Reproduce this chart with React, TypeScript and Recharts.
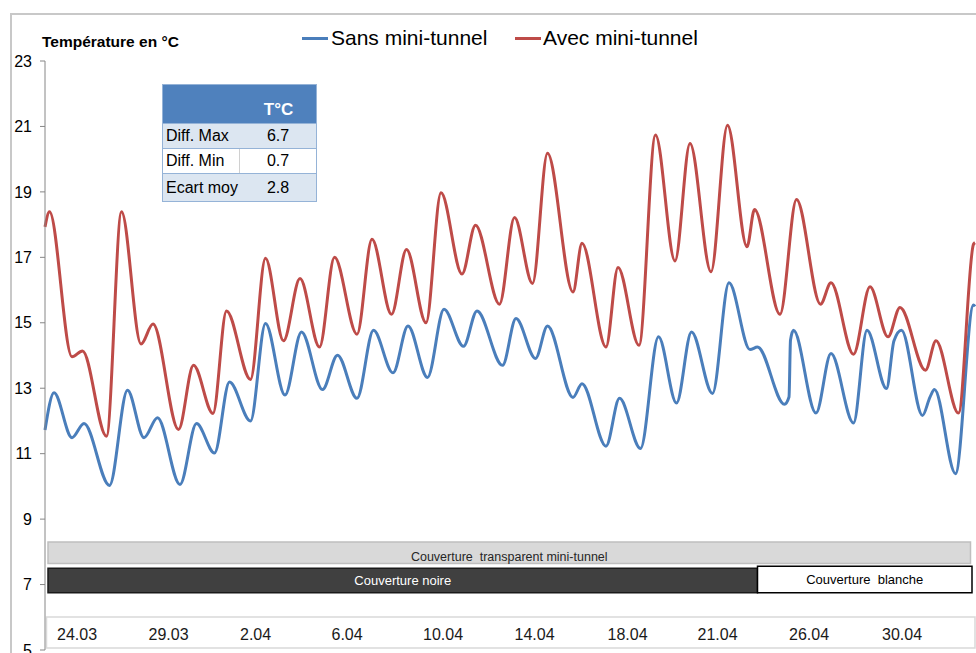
import React from "react"
import { LineChart, Line, XAxis, YAxis, ReferenceArea } from "recharts"

// temps en heures depuis le début de la mesure
const heuresAvec = [
  0, 3, 18, 25, 41, 51, 64, 72, 89, 99, 112, 121, 137, 147, 159, 170, 183, 193, 208, 218,
  231, 241, 254, 264, 278, 287, 303, 313, 325, 335, 352, 358, 374, 382, 396, 407, 420, 430,
  444, 455, 468, 473, 490, 501, 517, 524, 539, 550, 562, 570, 587, 594, 609, 619, 620,
]
const tempAvec = [
  17.93, 18.39, 13.96, 14.14, 11.53, 18.39, 14.35, 14.96, 11.74, 13.7, 12.23, 15.36, 13.27,
  16.97, 14.45, 16.35, 14.26, 17.0, 14.65, 17.55, 15.26, 17.24, 15.0, 18.97, 16.49, 17.98,
  15.57, 18.22, 16.2, 20.18, 15.94, 17.43, 14.26, 16.69, 14.31, 20.74, 16.89, 20.48, 16.56,
  21.04, 17.32, 18.46, 15.26, 18.77, 15.57, 16.22, 14.04, 16.1, 14.57, 15.47, 13.55, 14.45,
  12.24, 17.4, 17.45,
]

const heuresSans = [
  0, 6, 18, 26, 43, 55, 66, 75, 90, 101, 113, 123, 137, 147, 160, 171, 185, 195, 208, 219,
  232, 242, 255, 266, 279, 288, 305, 314, 327, 335, 352, 358, 374, 383, 397, 409, 421, 431,
  445, 456, 470, 475, 493, 496, 497, 499, 514, 524, 539, 548, 561, 566, 571, 585, 590, 593,
  607, 619, 620,
]
const tempSans = [
  11.72, 12.86, 11.49, 11.92, 10.03, 12.94, 11.49, 12.1, 10.06, 11.92, 11.02, 13.19, 12.0,
  14.98, 12.79, 14.72, 12.96, 14.01, 12.69, 14.77, 13.47, 14.9, 13.33, 15.41, 14.28, 15.36,
  13.7, 15.13, 13.91, 14.9, 12.72, 13.14, 11.23, 12.69, 11.16, 14.57, 12.55, 14.72, 12.84,
  16.22, 14.18, 14.26, 12.51, 12.73, 14.47, 14.77, 12.24, 14.06, 11.94, 14.77, 12.99, 14.45,
  14.77, 12.17, 12.73, 12.96, 10.39, 15.54, 15.5,
]

const yTicks = [5, 7, 9, 11, 13, 15, 17, 19, 21, 23]
const dateLabels = ["24.03", "29.03", "2.04", "6.04", "10.04", "14.04", "18.04", "21.04", "26.04", "30.04"]
const dateHeures = [8, 69, 130, 191, 252, 313, 375, 435, 496, 558]

// périodes de couverture (heures)
const periodeTransparent = [2, 617]
const periodeNoire = [2, 475]
const periodeBlanche = [475, 618]

const tableRows = [
  ["Diff. Max", "6.7"],
  ["Diff. Min", "0.7"],
  ["Ecart moy", "2.8"],
]

const avecData = heuresAvec.map((h, i) => ({ h, t: tempAvec[i] }))
const sansData = heuresSans.map((h, i) => ({ h, t: tempSans[i] }))

const BLUE = "#4a7ebb"
const RED = "#be4b48"
const FONT = "'Liberation Sans', Arial, sans-serif"

const bandLabel = (text: string, color: string, size: number, dy: number) => (props: any) => {
  const vb = props.viewBox
  return (
    <text
      x={vb.x + vb.width / 2}
      y={vb.y + vb.height / 2 + dy}
      textAnchor="middle"
      fill={color}
      fontSize={size}
      fontFamily={FONT}
      style={{ whiteSpace: "pre" }}
    >
      {text}
    </text>
  )
}

const DateTick = (props: any) => {
  const { x, payload } = props
  const i = dateHeures.indexOf(payload.value)
  return (
    <text x={x} y={640} fontSize={16} fill="#1a1a1a" fontFamily={FONT}>
      {dateLabels[i]}
    </text>
  )
}

const rowBg = ["#dce6f1", "#ffffff", "#dce6f1"]
const rowH = [24, 24, 27]

export default function App() {
  return (
    <div style={{ position: "absolute", left: 0, top: 0, width: 976, height: 653, background: "#fff", fontFamily: FONT, overflow: "hidden" }}>
      <div style={{ position: "absolute", left: 10, top: 13, width: 970, height: 650, borderTop: "2px solid #c8c8c8", borderLeft: "2px solid #c8c8c8" }} />

      <div style={{ position: "absolute", left: 42, top: 34, fontSize: 15.5, lineHeight: "16px", fontWeight: "bold", color: "#000", whiteSpace: "nowrap" }}>
        Température en °C
      </div>

      <div style={{ position: "absolute", left: 302, top: 37, width: 26, height: 3, background: BLUE }} />
      <div style={{ position: "absolute", left: 331, top: 27, fontSize: 21, lineHeight: "21px", color: "#000", whiteSpace: "nowrap" }}>
        Sans mini-tunnel
      </div>
      <div style={{ position: "absolute", left: 515, top: 37, width: 26, height: 3, background: RED }} />
      <div style={{ position: "absolute", left: 543, top: 27, fontSize: 21, lineHeight: "21px", color: "#000", whiteSpace: "nowrap" }}>
        Avec mini-tunnel
      </div>

      <LineChart width={976} height={653} margin={{ top: 61, right: 1, bottom: 0, left: 0 }}>
        <XAxis
          type="number"
          dataKey="h"
          domain={[0, 620]}
          ticks={dateHeures}
          interval={0}
          height={3}
          axisLine={false}
          tickLine={false}
          tick={DateTick}
        />
        <YAxis
          type="number"
          domain={[5, 23]}
          ticks={yTicks}
          interval={0}
          width={45}
          tickSize={5}
          tickMargin={8}
          axisLine={{ stroke: "#868686" }}
          tickLine={{ stroke: "#868686" }}
          tick={{ fontSize: 16, fill: "#000", fontFamily: FONT }}
        />
        <ReferenceArea
          x1={1}
          x2={620}
          y1={5.06}
          y2={6.01}
          fill="#ffffff"
          fillOpacity={1}
          stroke="#d9d9d9"
          strokeWidth={1.5}
        />
        <ReferenceArea
          x1={periodeTransparent[0]}
          x2={periodeTransparent[1]}
          y1={7.64}
          y2={8.3}
          fill="#d9d9d9"
          fillOpacity={1}
          stroke="#bfbfbf"
          strokeWidth={1.5}
          label={bandLabel("Couverture  transparent mini-tunnel", "#262626", 12.5, 8)}
        />
        <ReferenceArea
          x1={periodeNoire[0]}
          x2={periodeNoire[1]}
          y1={6.75}
          y2={7.5}
          fill="#404040"
          fillOpacity={1}
          stroke="#1a1a1a"
          strokeWidth={1.5}
          label={bandLabel("Couverture noire", "#ffffff", 13, 5)}
        />
        <ReferenceArea
          x1={periodeBlanche[0]}
          x2={periodeBlanche[1]}
          y1={6.75}
          y2={7.56}
          fill="#ffffff"
          fillOpacity={1}
          stroke="#000000"
          strokeWidth={1.5}
          label={bandLabel("Couverture  blanche", "#000000", 13, 5)}
        />
        <Line
          data={sansData}
          dataKey="t"
          type="monotone"
          stroke={BLUE}
          strokeWidth={3}
          dot={false}
          isAnimationActive={false}
        />
        <Line
          data={avecData}
          dataKey="t"
          type="monotone"
          stroke={RED}
          strokeWidth={3}
          dot={false}
          isAnimationActive={false}
        />
      </LineChart>

      <div style={{ position: "absolute", left: 162, top: 84, width: 153, border: "1px solid #95b3d7", fontSize: 16, color: "#000" }}>
        <div style={{ height: 38, background: "#4f81bd", position: "relative" }}>
          <span style={{ position: "absolute", left: 0, width: 153, paddingLeft: 78, boxSizing: "border-box", bottom: 3, textAlign: "center", color: "#fff", fontWeight: "bold", fontSize: 17 }}>
            T°C
          </span>
        </div>
        {tableRows.map((r, i) => (
          <div key={r[0]} style={{ display: "flex", height: rowH[i], background: rowBg[i], borderTop: "1px solid #95b3d7", alignItems: "center" }}>
            <div style={{ width: 77, paddingLeft: 3, boxSizing: "border-box", borderRight: i === 1 ? "1px solid #d0d0d0" : "none", height: "100%", display: "flex", alignItems: "center" }}>
              {r[0]}
            </div>
            <div style={{ flex: 1, textAlign: "center" }}>{r[1]}</div>
          </div>
        ))}
      </div>
    </div>
  )
}
